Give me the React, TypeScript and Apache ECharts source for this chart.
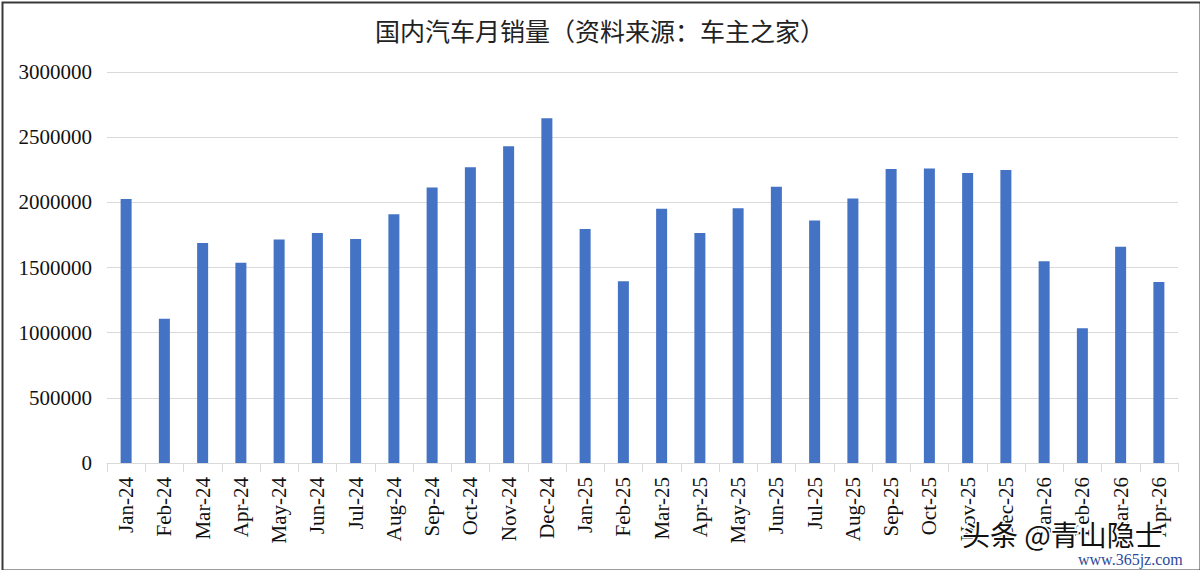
import React, { useEffect, useRef } from "react";
import * as echarts from "echarts";

const categories = [
  "Jan-24", "Feb-24", "Mar-24", "Apr-24", "May-24", "Jun-24", "Jul-24", "Aug-24",
  "Sep-24", "Oct-24", "Nov-24", "Dec-24", "Jan-25", "Feb-25", "Mar-25", "Apr-25",
  "May-25", "Jun-25", "Jul-25", "Aug-25", "Sep-25", "Oct-25", "Nov-25", "Dec-25",
  "Jan-26", "Feb-26", "Mar-26", "Apr-26",
];

const sales = [
  2026000, 1106000, 1688000, 1537000, 1714000, 1765000, 1719000, 1909000,
  2113000, 2270000, 2431000, 2646000, 1796000, 1394000, 1950000, 1765000,
  1955000, 2119000, 1860000, 2029000, 2255000, 2259000, 2226000, 2249000,
  1548000, 1033000, 1660000, 1389000,
];

const yTicks = { min: 0, max: 3000000, interval: 500000 };

const titleText = "国内汽车月销量（资料来源：车主之家）";
const watermarkMain = "头条 @青山隐士";
const watermarkSub = "www.365jz.com";

export default function App() {
  const ref = useRef<HTMLDivElement>(null);

  useEffect(() => {
    document.body.style.margin = "0";
    if (!ref.current) return;
    const chart = echarts.init(ref.current, undefined, { renderer: "svg" });
    const serif = "'Liberation Serif', 'Times New Roman', serif";
    chart.setOption({
      animation: false,
      backgroundColor: "#ffffff",
      title: {
        text: titleText,
        left: 595,
        top: 12,
        textAlign: "center",
        textStyle: {
          fontFamily: "'Noto Sans CJK SC', sans-serif",
          fontSize: 25,
          fontWeight: "normal",
          color: "#222222",
        },
      },
      grid: { left: 107, right: 22, top: 72, bottom: 107, containLabel: false },
      xAxis: {
        type: "category",
        data: categories,
        boundaryGap: true,
        axisLine: { show: true, lineStyle: { color: "#d9d9d9", width: 1 } },
        axisTick: { show: true, alignWithLabel: false, length: 9, lineStyle: { color: "#d9d9d9" } },
        axisLabel: {
          interval: 0,
          rotate: 90,
          margin: 14,
          fontFamily: serif,
          fontSize: 21,
          color: "#111111",
        },
      },
      yAxis: {
        type: "value",
        min: yTicks.min,
        max: yTicks.max,
        interval: yTicks.interval,
        axisLine: { show: false },
        axisTick: { show: false },
        splitLine: { lineStyle: { color: "#d9d9d9", width: 1 } },
        axisLabel: {
          margin: 15,
          fontFamily: serif,
          fontSize: 21,
          color: "#111111",
          formatter: (v: number) => String(v),
        },
      },
      series: [
        {
          type: "bar",
          data: sales,
          barWidth: 11,
          itemStyle: { color: "#4472C4" },
        },
      ],
      graphic: [
        {
          type: "rect",
          left: 0,
          top: 0,
          shape: { x: 1, y: 1, width: 1198, height: 568 },
          style: { fill: "none", stroke: "#3a3a3a", lineWidth: 2 },
          silent: true,
        },
        {
          type: "text",
          x: 962,
          y: 534,
          style: {
            text: watermarkMain,
            fontFamily: "'Noto Sans CJK SC', sans-serif",
            fontSize: 28,
            fill: "#111111",
            stroke: "#ffffff",
            lineWidth: 3,
            verticalAlign: "middle",
          },
          z: 100,
        },
        {
          type: "text",
          x: 1078,
          y: 559,
          style: {
            text: watermarkSub,
            fontFamily: serif,
            fontSize: 16,
            fill: "#2b4a9a",
            verticalAlign: "middle",
          },
          z: 101,
        },
      ],
    });
    return () => chart.dispose();
  }, []);

  return <div ref={ref} style={{ width: 1200, height: 570 }} />;
}
